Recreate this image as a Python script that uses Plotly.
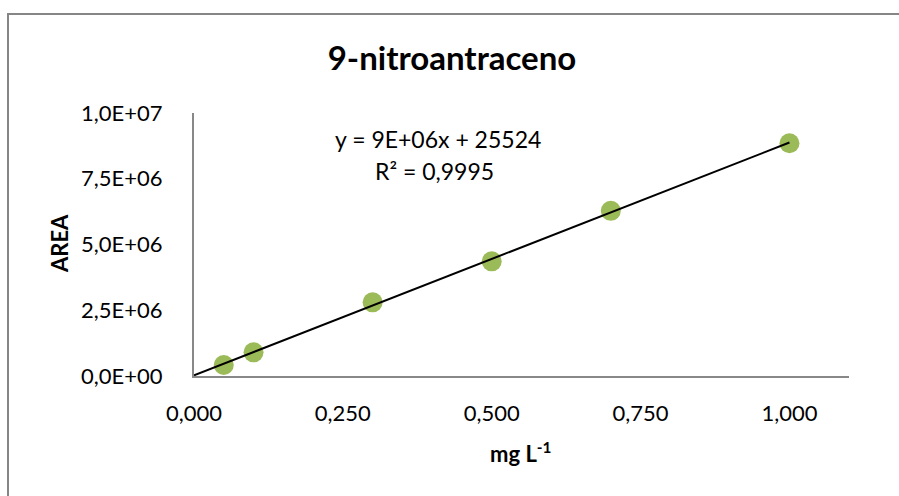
import numpy as np
import plotly.graph_objects as go

# Calibration standards: concentration (mg/L) vs. peak area
conc = [0.05, 0.10, 0.30, 0.50, 0.70, 1.00]
area = [0.42e6, 0.90e6, 2.80e6, 4.36e6, 6.28e6, 8.85e6]

x_tickvals = [0.0, 0.25, 0.5, 0.75, 1.0]
x_ticktext = ["0,000", "0,250", "0,500", "0,750", "1,000"]
y_tickvals = [0.0, 2.5e6, 5.0e6, 7.5e6, 1.0e7]
y_ticktext = ["0,0E+00", "2,5E+06", "5,0E+06", "7,5E+06", "1,0E+07"]

title_text = "9-nitroantraceno"
eq_text = "y = 9E+06x + 25524"
r2_text = "R² = 0,9995"

# Linear least-squares trendline, drawn from the origin to the last standard
slope, intercept = np.polyfit(conc, area, 1)
fit_x = [0.0, max(conc)]
fit_y = [slope * v + intercept for v in fit_x]

FONT = "Lato"
W, H = 899, 496
L, R, T, B = 194, 50, 113, 120
pw, ph = W - L - R, H - T - B


def px(x):
    return (x - L) / pw


def py(y):
    return (H - B - y) / ph


fig = go.Figure()
fig.add_trace(go.Scatter(
    x=conc, y=area, mode="markers",
    marker=dict(size=20, color="#9BBB59", line=dict(width=0)),
    showlegend=False, cliponaxis=False,
))
fig.add_trace(go.Scatter(
    x=fit_x, y=fit_y, mode="lines",
    line=dict(color="#000000", width=2),
    showlegend=False,
))

fig.update_layout(
    width=W, height=H,
    margin=dict(l=L, r=R, t=T, b=B, pad=0),
    paper_bgcolor="white", plot_bgcolor="white",
    font=dict(family=FONT, color="#000000", size=22),
    title=dict(text=f"<b>{title_text}</b>", x=452 / W, xanchor="center",
               y=1 - 58 / H, yanchor="middle",
               font=dict(family=FONT, size=33, color="#000000")),
    xaxis=dict(range=[0, 1.1], tickvals=x_tickvals, ticktext=x_ticktext,
               showgrid=False, zeroline=False, showline=True,
               linecolor="#888888", linewidth=2, ticks="",
               ticklabelstandoff=17, tickfont=dict(size=22)),
    yaxis=dict(range=[0, 1.0e7], tickvals=y_tickvals, ticktext=y_ticktext,
               showgrid=False, zeroline=False, showline=True,
               linecolor="#888888", linewidth=2, ticks="",
               ticklabelstandoff=25, tickfont=dict(size=22)),
    annotations=[
        dict(text=eq_text, xref="paper", yref="paper", x=px(438), y=py(139),
             xanchor="center", yanchor="middle", showarrow=False,
             font=dict(size=23)),
        dict(text=r2_text, xref="paper", yref="paper", x=px(434), y=py(171),
             xanchor="center", yanchor="middle", showarrow=False,
             font=dict(size=23)),
        dict(text="<b>AREA</b>", xref="paper", yref="paper", x=px(59), y=py(244),
             xanchor="center", yanchor="middle", textangle=-90, showarrow=False,
             font=dict(size=22)),
        dict(text="<b>mg L<sup>-1</sup></b>", xref="paper", yref="paper",
             x=px(521), y=py(452), xanchor="center", yanchor="middle",
             showarrow=False, font=dict(size=22)),
    ],
    shapes=[
        dict(type="rect", xref="paper", yref="paper",
             x0=px(8), y0=py(505), x1=px(910), y1=py(14),
             line=dict(color="#868686", width=2), fillcolor="rgba(0,0,0,0)",
             layer="below"),
    ],
)

fig.write_html("out.html")
